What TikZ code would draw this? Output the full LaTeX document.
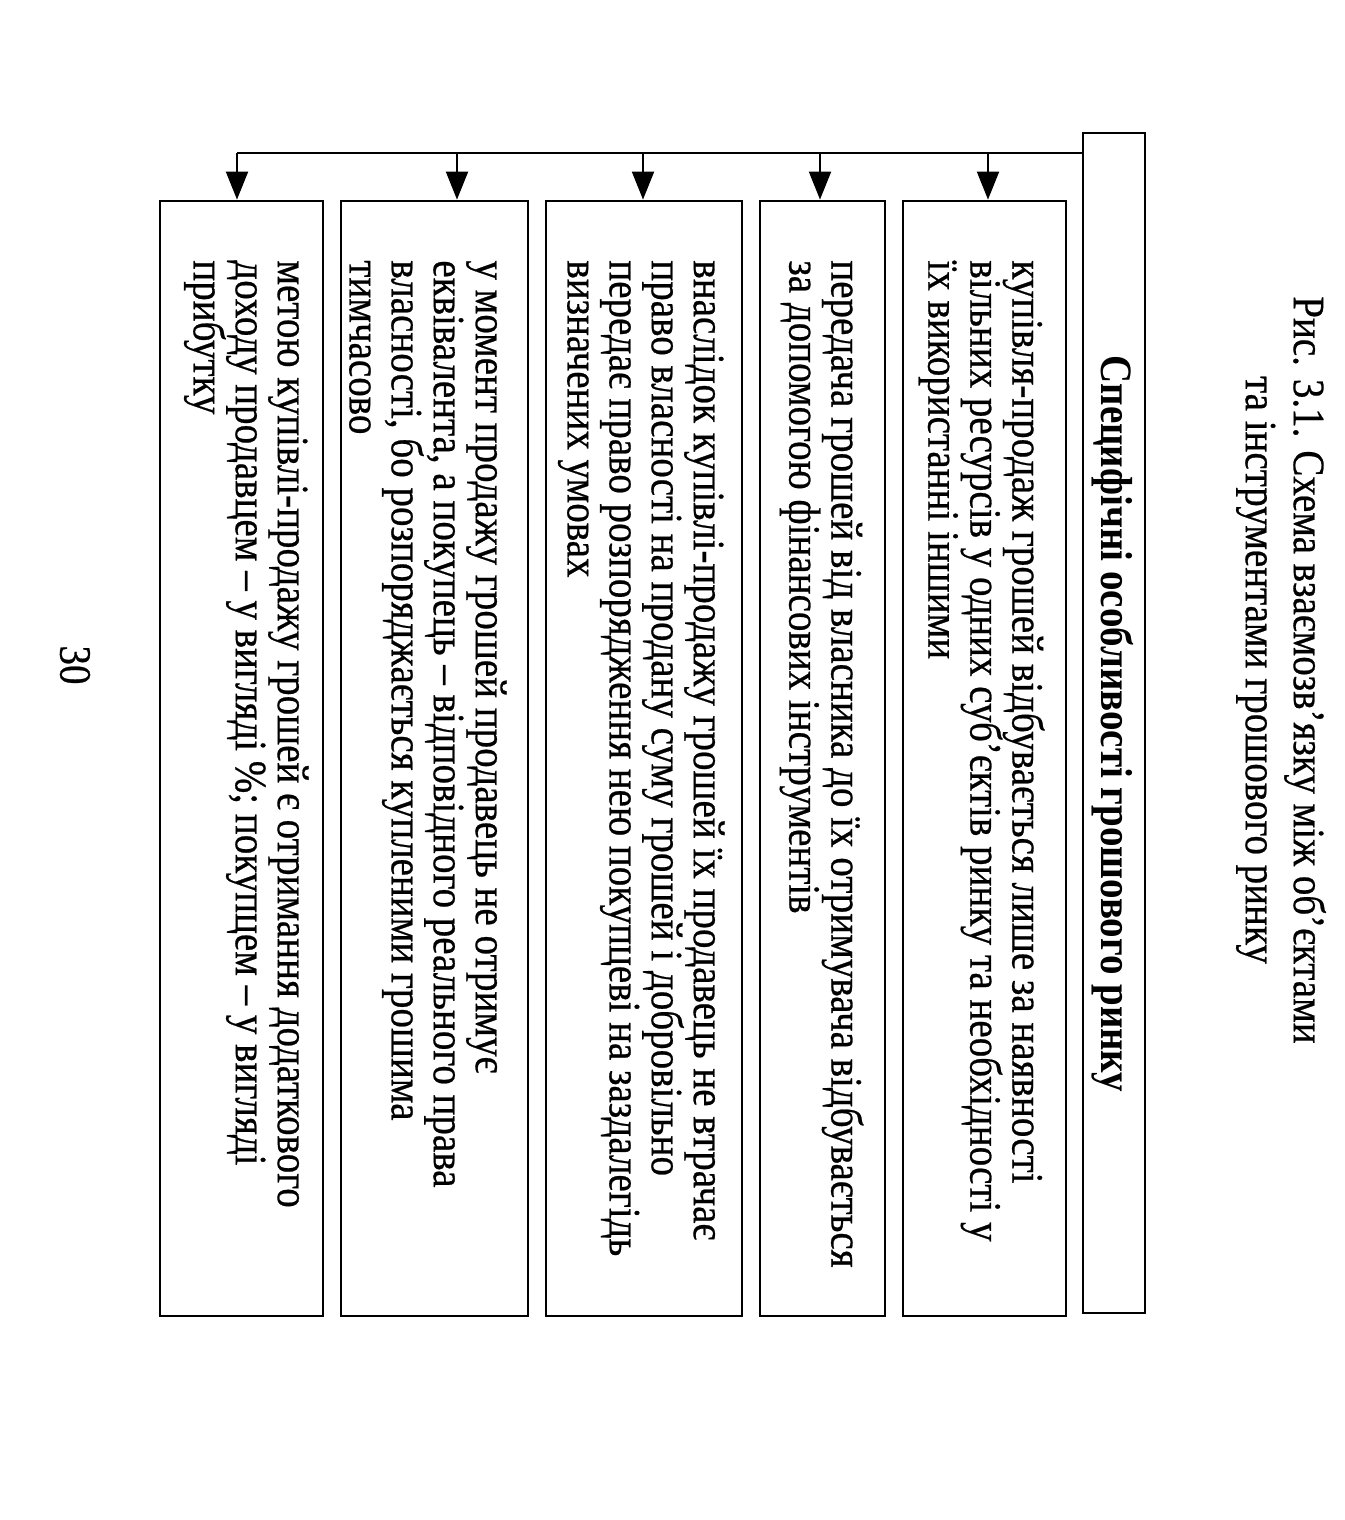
\documentclass[tikz,border=0pt]{standalone}
\usepackage{fontspec}
\setmainfont{Liberation Serif}
\newfontfamily\scanfont{Liberation Serif}[FakeBold=0.6]
\usetikzlibrary{arrows.meta}
\begin{document}
\begin{tikzpicture}[x=0.5pt,y=-0.5pt,
  boxnode/.style={draw, line width=1.4pt, inner sep=0pt, minimum width=#1},
  txt/.style={rotate=-90, yscale=1.15, anchor=north west, align=left, inner sep=0pt,
    font=\scanfont\fontsize{19.5}{18.3}\selectfont},
  hdrtxt/.style={rotate=-90, yscale=1.15, anchor=center, align=center, inner sep=0pt,
    font=\fontsize{19.5}{18.3}\selectfont\bfseries},
  captxt/.style={rotate=-90, yscale=1.15, anchor=center, align=center, inner sep=0pt,
    font=\scanfont\fontsize{19.5}{20.9}\selectfont},
  conn/.style={line width=1pt},
  arr/.style={line width=1pt, -{Triangle[length=14pt,width=11pt]}}
]
\useasboundingbox (0,0) rectangle (1344,1520);
% caption
\node[captxt] (cap) at (1281,670) {Рис. 3.1. Схема взаємозв’язку між об’єктами\\та інструментами грошового ринку};
% header box
\node[boxnode=31pt, minimum height=590pt] (hdr) at (1114,723) {};
\node[hdrtxt] (hdrt) at (1113,724) {Специфічні особливості грошового ринку};
% boxes
\node[boxnode=81.5pt, minimum height=557.5pt] (b1) at (984.5,758.5) {};
\node[boxnode=62.5pt, minimum height=557.5pt] (b2) at (822.5,758.5) {};
\node[boxnode=98pt, minimum height=557.5pt] (b3) at (644,758.5) {};
\node[boxnode=93.5pt, minimum height=557.5pt] (b4) at (434.5,758.5) {};
\node[boxnode=81.5pt, minimum height=557.5pt] (b5) at (241.5,758.5) {};
% texts
\node[txt] (t1) at (1045,260) {купівля-продаж грошей відбувається лише за наявності\\вільних ресурсів у одних суб’єктів ринку та необхідності у\\їх використанні іншими};
\node[txt] (t2) at (864,260) {передача грошей від власника до їх отримувача відбувається\\за допомогою фінансових інструментів};
\node[txt] (t3) at (725,260) {внаслідок купівлі-продажу грошей їх продавець не втрачає\\право власності на продану суму грошей і добровільно\\передає право розпорядження нею покупцеві на заздалегідь\\визначених умовах};
\node[txt] (t4) at (507,260) {у момент продажу грошей продавець не отримує\\еквівалента, а покупець – відповідного реального права\\власності, бо розпоряджається купленими грошима\\тимчасово};
\node[txt] (t5) at (309,260) {метою купівлі-продажу грошей є отримання додаткового\\доходу продавцем – у вигляді \%; покупцем – у вигляді\\прибутку};
% connectors
\coordinate (j1) at (988,153);
\coordinate (j2) at (820,153);
\coordinate (j3) at (643,153);
\coordinate (j4) at (457,153);
\coordinate (j5) at (237,153);
\draw[conn] (hdr.west |- j5) -- (j5);
\draw[arr] (j1) -- (j1 |- b1.north);
\draw[arr] (j2) -- (j2 |- b2.north);
\draw[arr] (j3) -- (j3 |- b3.north);
\draw[arr] (j4) -- (j4 |- b4.north);
\draw[arr] (j5) -- (j5 |- b5.north);
% page number
\node[captxt] (pg) at (75,665) {30};
\end{tikzpicture}
\end{document}
